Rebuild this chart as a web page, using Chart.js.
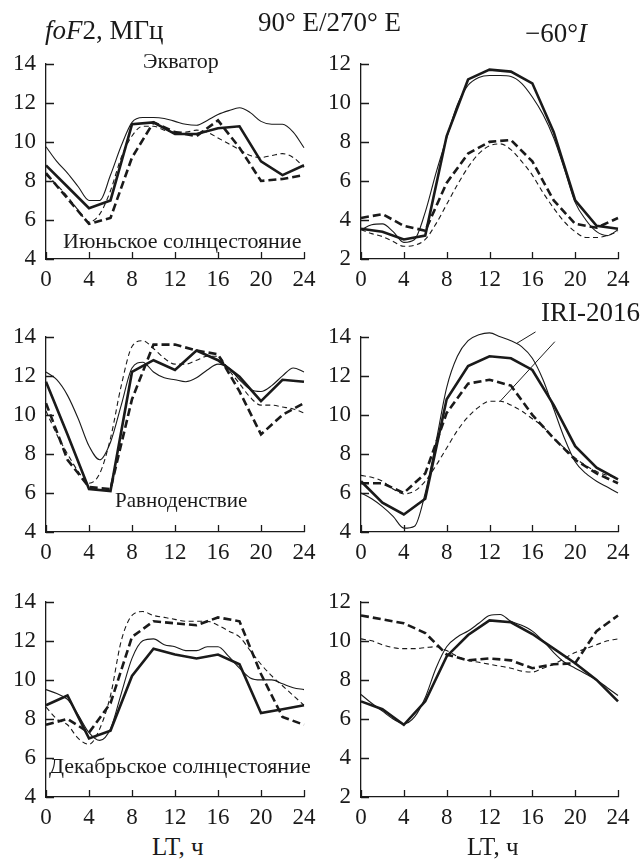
<!DOCTYPE html>
<html lang="ru">
<head>
<meta charset="utf-8">
<title>foF2 — 90° E/270° E</title>
<script src="https://cdn.jsdelivr.net/npm/chart.js@4.4.3/dist/chart.umd.min.js"></script>
<style>
  html, body { margin: 0; padding: 0; background: #fff; }
  body {
    width: 642px; height: 861px; position: relative; overflow: hidden;
    font-family: "Liberation Serif", "Times New Roman", serif; color: #1a1a1a;
  }
  canvas { position: absolute; }
  .txt { position: absolute; white-space: nowrap; line-height: 1; }
  .it { font-style: italic; }
</style>
</head>
<body>

<canvas id="junEq" width="324" height="254" style="left:0;top:40px"></canvas>
<canvas id="junHi" width="326" height="254" style="left:316px;top:40px"></canvas>
<canvas id="equEq" width="324" height="254" style="left:0;top:313px"></canvas>
<canvas id="equHi" width="326" height="254" style="left:316px;top:313px"></canvas>
<canvas id="decEq" width="324" height="254" style="left:0;top:578px"></canvas>
<canvas id="decHi" width="326" height="254" style="left:316px;top:578px"></canvas>

<div class="txt" data-x="45" data-base="40" data-size="27"><span class="it">foF</span>2, МГц</div>
<div class="txt" data-x="258" data-base="32" data-size="27">90° E/270° E</div>
<div class="txt" data-x="525" data-base="43" data-size="27">−60°<span class="it">I</span></div>
<div class="txt" data-x="143" data-base="68" data-size="22">Экватор</div>
<div class="txt" data-x="63" data-base="248" data-size="22">Июньское солнцестояние</div>
<div class="txt" data-x="115" data-base="508" data-size="21">Равноденствие</div>
<div class="txt" data-x="49" data-base="773" data-size="22">Декабрьское солнцестояние</div>
<div class="txt" data-x="541" data-base="322" data-size="27">IRI-2016</div>
<div class="txt" data-x="152" data-base="855" data-size="25">LT, ч</div>
<div class="txt" data-x="467" data-base="855" data-size="25">LT, ч</div>

<script>
// hours of the observed (2 h) and model (1 h) series
const hours2 = [0, 2, 4, 6, 8, 10, 12, 14, 16, 18, 20, 22, 24];
const hours1 = [0, 1, 2, 3, 4, 5, 6, 7, 8, 9, 10, 11, 12, 13, 14, 15, 16, 17, 18, 19, 20, 21, 22, 23, 24];
const xTicks = [0, 4, 8, 12, 16, 20, 24];
const eqYTicks = [4, 6, 8, 10, 12, 14];
const hiYTicks = [2, 4, 6, 8, 10, 12];

// June solstice, equator
const junEq90Obs  = [8.8, 7.7, 6.6, 7.0, 10.9, 11.0, 10.4, 10.4, 10.7, 10.8, 9.0, 8.3, 8.8];
const junEq270Obs = [8.4, 7.1, 5.8, 6.1, 9.2, 11.0, 10.5, 10.3, 11.1, 9.7, 8.0, 8.1, 8.3];
const junEq90Iri  = [9.75, 9.0, 8.4, 7.7, 7.0, 7.0, 8.3, 9.8, 11.0, 11.25, 11.25, 11.2, 11.05, 10.9, 10.85, 11.1, 11.4, 11.6, 11.75, 11.5, 11.05, 10.9, 10.9, 10.5, 9.7];
const junEq270Iri = [8.3, 7.8, 7.2, 6.5, 5.9, 6.3, 7.5, 9.2, 10.3, 10.8, 10.8, 10.6, 10.5, 10.5, 10.6, 10.5, 10.2, 9.9, 9.6, 9.3, 9.2, 9.3, 9.4, 9.2, 8.7];

// June solstice, -60° I
const junHi90Obs  = [3.55, 3.4, 3.0, 3.2, 8.3, 11.2, 11.7, 11.6, 11.0, 8.5, 5.0, 3.7, 3.55];
const junHi270Obs = [4.1, 4.3, 3.7, 3.45, 5.9, 7.4, 8.0, 8.1, 7.0, 5.0, 3.8, 3.6, 4.1];
const junHi90Iri  = [3.5, 3.75, 3.8, 3.4, 2.85, 3.0, 4.4, 6.4, 8.2, 9.9, 10.9, 11.3, 11.4, 11.4, 11.35, 11.0, 10.3, 9.4, 8.2, 6.6, 4.9, 4.0, 3.4, 3.2, 3.5];
const junHi270Iri = [3.5, 3.3, 3.15, 2.9, 2.65, 2.7, 3.0, 3.8, 4.8, 5.8, 6.7, 7.4, 7.8, 7.9, 7.6, 7.0, 6.3, 5.4, 4.6, 3.9, 3.4, 3.1, 3.1, 3.2, 3.4];

// equinox, equator
const equEq90Obs  = [11.7, 9.0, 6.2, 6.1, 12.2, 12.8, 12.3, 13.3, 12.8, 11.95, 10.7, 11.8, 11.7];
const equEq270Obs = [10.6, 7.7, 6.3, 6.2, 10.8, 13.6, 13.6, 13.3, 13.1, 11.2, 9.0, 10.0, 10.6];
const equEq90Iri  = [12.2, 11.8, 11.0, 9.8, 8.4, 7.7, 8.6, 10.5, 12.4, 12.7, 12.2, 11.9, 11.8, 11.7, 11.9, 12.3, 12.6, 12.4, 11.8, 11.3, 11.2, 11.5, 12.0, 12.4, 12.2];
const equEq270Iri = [10.2, 9.0, 8.0, 7.1, 6.5, 7.0, 8.8, 11.5, 13.5, 13.8, 13.4, 12.9, 12.6, 12.6, 12.8, 13.0, 13.0, 12.3, 11.6, 10.9, 10.5, 10.5, 10.4, 10.3, 10.1];

// equinox, -60° I
const equHi90Obs  = [6.6, 5.5, 4.9, 5.7, 10.8, 12.5, 13.0, 12.9, 12.3, 10.5, 8.4, 7.3, 6.7];
const equHi270Obs = [6.5, 6.5, 6.0, 7.0, 10.1, 11.6, 11.8, 11.5, 10.0, 8.8, 7.7, 7.0, 6.5];
const equHi90Iri  = [6.0, 5.7, 5.3, 4.8, 4.2, 4.3, 6.0, 8.6, 11.4, 13.0, 13.8, 14.1, 14.2, 14.0, 13.8, 13.5, 12.9, 11.8, 10.3, 8.8, 7.6, 7.0, 6.6, 6.3, 6.0];
const equHi270Iri = [6.9, 6.8, 6.6, 6.2, 5.95, 6.1, 6.6, 7.4, 8.3, 9.2, 9.9, 10.4, 10.7, 10.7, 10.5, 10.2, 9.8, 9.4, 8.8, 8.3, 7.8, 7.4, 7.1, 6.9, 6.8];

// December solstice, equator
const decEq90Obs  = [8.7, 9.2, 7.0, 7.4, 10.2, 11.6, 11.3, 11.1, 11.3, 10.8, 8.3, 8.5, 8.7];
const decEq270Obs = [7.7, 8.0, 7.3, 8.8, 12.2, 13.0, 12.9, 12.8, 13.2, 13.0, 10.3, 8.1, 7.7];
const decEq90Iri  = [9.5, 9.3, 9.0, 8.2, 7.3, 6.9, 7.5, 9.3, 11.1, 12.0, 12.1, 11.8, 11.7, 11.5, 11.5, 11.7, 11.7, 11.2, 10.6, 10.1, 10.0, 10.0, 9.8, 9.6, 9.5];
const decEq270Iri = [8.6, 8.0, 7.7, 7.0, 6.7, 7.5, 9.2, 12.0, 13.3, 13.5, 13.3, 13.2, 13.1, 13.0, 13.0, 13.0, 12.8, 12.5, 12.2, 11.5, 10.8, 10.2, 9.7, 9.2, 8.7];

// December solstice, -60° I
const decHi90Obs  = [6.9, 6.5, 5.7, 6.9, 9.2, 10.3, 11.05, 10.95, 10.35, 9.6, 8.85, 8.0, 6.9];
const decHi270Obs = [11.3, 11.1, 10.9, 10.4, 9.3, 9.0, 9.1, 9.0, 8.6, 8.8, 8.85, 10.5, 11.3];
const decHi90Iri  = [7.25, 6.8, 6.4, 6.0, 5.75, 6.1, 7.1, 8.6, 9.7, 10.2, 10.5, 10.9, 11.3, 11.35, 11.0, 10.8, 10.5, 10.0, 9.4, 8.9, 8.6, 8.3, 8.0, 7.6, 7.2];
const decHi270Iri = [10.1, 10.0, 9.8, 9.65, 9.6, 9.6, 9.65, 9.7, 9.5, 9.2, 9.0, 8.9, 8.8, 8.7, 8.6, 8.45, 8.4, 8.6, 8.8, 9.1, 9.4, 9.6, 9.8, 10.0, 10.1];

const INK = '#1a1a1a';
const FONT = { family: '"Liberation Serif", "Times New Roman", serif', size: 23 };

// place the text labels by their baseline
document.querySelectorAll('.txt').forEach(el => {
    const size = Number(el.dataset.size);
    el.style.fontSize = size + 'px';
    el.style.left = el.dataset.x + 'px';
    el.style.top = (Number(el.dataset.base) - 0.84 * size) + 'px';
});

function points(hours, values) {
    return hours.map((h, i) => ({ x: h, y: values[i] }));
}

function valueAt(values, hour) {
    const i = Math.floor(hour);
    const t = hour - i;
    return i >= values.length - 1 ? values[values.length - 1] : values[i] * (1 - t) + values[i + 1] * t;
}

// ticks drawn on the inside of both axes
const innerTicks = {
    id: 'innerTicks',
    afterDraw(chart) {
        const { ctx, chartArea, scales: { x, y } } = chart;
        ctx.save();
        ctx.strokeStyle = INK;
        ctx.lineWidth = 1.3;
        ctx.beginPath();
        x.ticks.forEach(t => {
            const px = Math.round(x.getPixelForValue(t.value)) + 0.5;
            ctx.moveTo(px, chartArea.bottom);
            ctx.lineTo(px, chartArea.bottom - 7);
        });
        y.ticks.forEach(t => {
            const py = Math.round(y.getPixelForValue(t.value)) + 0.5;
            ctx.moveTo(chartArea.left, py);
            ctx.lineTo(chartArea.left + 8, py);
        });
        ctx.stroke();
        ctx.restore();
    }
};

// pointer lines from the IRI-2016 label to the model curves
const iriLeaders = {
    id: 'iriLeaders',
    afterDraw(chart) {
        const { ctx, scales: { x, y } } = chart;
        const lines = [
            [[16.3, 14.25], [14.5, valueAt(equHi90Iri, 14.5)]],
            [[18.1, 13.75], [13.0, valueAt(equHi270Iri, 13.0)]]
        ];
        ctx.save();
        ctx.strokeStyle = INK;
        ctx.lineWidth = 1;
        lines.forEach(([from, to]) => {
            ctx.beginPath();
            ctx.moveTo(x.getPixelForValue(from[0]), y.getPixelForValue(from[1]));
            ctx.lineTo(x.getPixelForValue(to[0]), y.getPixelForValue(to[1]));
            ctx.stroke();
        });
        ctx.restore();
    }
};

function makePanel(id, yTicks, obs90, obs270, iri90, iri270, extraPlugins = []) {
    const rightCol = id.endsWith('Hi');
    const thin = { borderColor: INK, borderWidth: 1.1, pointRadius: 0, cubicInterpolationMode: 'monotone', fill: false, clip: false };
    const thick = { borderColor: INK, borderWidth: 2.6, pointRadius: 0, tension: 0, fill: false, clip: false };

    new Chart(document.getElementById(id), {
        type: 'line',
        data: {
            datasets: [
                { ...thin, data: points(hours1, iri90) },
                { ...thin, data: points(hours1, iri270), borderDash: [5, 3.5] },
                { ...thick, data: points(hours2, obs90) },
                { ...thick, data: points(hours2, obs270), borderDash: [8, 4] }
            ]
        },
        options: {
            responsive: false,
            animation: false,
            events: [],
            layout: { padding: { top: 14, right: rightCol ? 24 : 20, bottom: 0, left: 0 } },
            plugins: { legend: { display: false }, tooltip: { enabled: false } },
            scales: {
                x: {
                    type: 'linear', min: xTicks[0], max: xTicks[xTicks.length - 1],
                    afterBuildTicks: s => { s.ticks = xTicks.map(v => ({ value: v })); },
                    ticks: { font: FONT, color: INK, padding: 7, maxRotation: 0, autoSkip: false },
                    grid: { display: false, drawTicks: false },
                    border: { color: INK, width: 1.3 },
                    afterFit: s => { s.height = 35; }
                },
                y: {
                    min: yTicks[0], max: yTicks[yTicks.length - 1],
                    afterBuildTicks: s => { s.ticks = yTicks.map(v => ({ value: v })); },
                    ticks: { font: FONT, color: INK, padding: 10 },
                    grid: { display: false, drawTicks: false },
                    border: { color: INK, width: 1.3 },
                    afterFit: s => { s.width = rightCol ? 45 : 46; }
                }
            }
        },
        plugins: [innerTicks, ...extraPlugins]
    });
}

makePanel('junEq', eqYTicks, junEq90Obs, junEq270Obs, junEq90Iri, junEq270Iri);
makePanel('junHi', hiYTicks, junHi90Obs, junHi270Obs, junHi90Iri, junHi270Iri);
makePanel('equEq', eqYTicks, equEq90Obs, equEq270Obs, equEq90Iri, equEq270Iri);
makePanel('equHi', eqYTicks, equHi90Obs, equHi270Obs, equHi90Iri, equHi270Iri, [iriLeaders]);
makePanel('decEq', eqYTicks, decEq90Obs, decEq270Obs, decEq90Iri, decEq270Iri);
makePanel('decHi', hiYTicks, decHi90Obs, decHi270Obs, decHi90Iri, decHi270Iri);
</script>
</body>
</html>
